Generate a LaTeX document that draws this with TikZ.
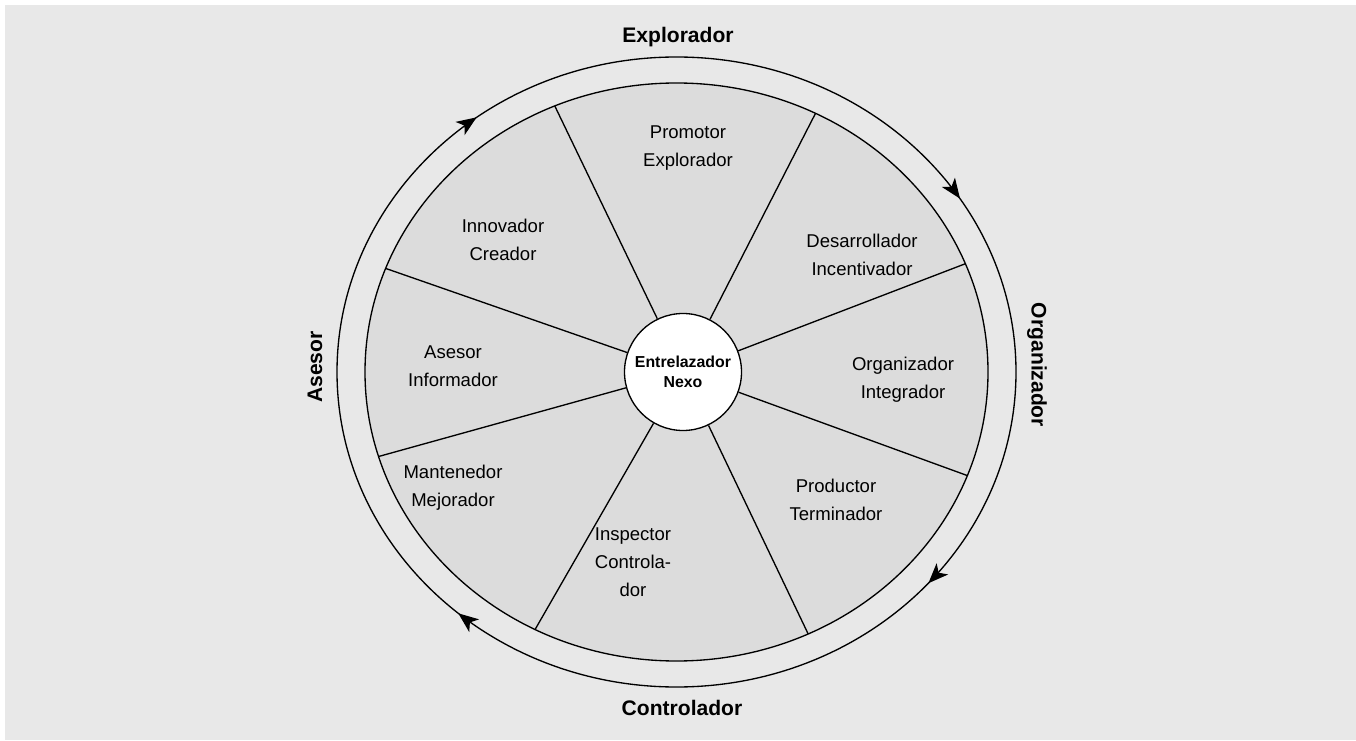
\documentclass[tikz,border=0pt]{standalone}
\usepackage{fontspec}
\setmainfont{Liberation Sans}
\usetikzlibrary{arrows.meta,decorations.markings}
\definecolor{page_gray}{RGB}{232,232,232}
\definecolor{wheel_gray}{RGB}{220,220,220}
\tikzset{
sector_label/.style={align=center, font=\fontsize{13.9}{21}\selectfont},
ring_label/.style={font=\fontsize{15.8}{19}\selectfont\bfseries},
hub_circle/.style={circle, draw, line width=1pt, fill=white, minimum size=87.75pt, inner sep=0pt, align=center, font=\fontsize{11.9}{15}\selectfont\bfseries},
spoke_line/.style={line width=1pt}
}

\begin{document}
\begin{tikzpicture}[x=0.75pt, y=0.75pt]
    \useasboundingbox (0,0) rectangle (1356,740);
    \fill[page_gray] (5,0) rectangle (1356,735);

    % wheel and spokes
    \coordinate (wheel) at (676.5,368);
    \draw[line width=1pt, fill=wheel_gray] (wheel) ellipse [x radius=311.5, y radius=289];
    \path (wheel) ++(113:311.5 and 289) coordinate (rim_1);
    \path (wheel) ++(63.5:311.5 and 289) coordinate (rim_2);
    \path (wheel) ++(22:311.5 and 289) coordinate (rim_3);
    \path (wheel) ++(-21:311.5 and 289) coordinate (rim_4);
    \path (wheel) ++(-65:311.5 and 289) coordinate (rim_5);
    \path (wheel) ++(-117:311.5 and 289) coordinate (rim_6);
    \path (wheel) ++(-163:311.5 and 289) coordinate (rim_7);
    \path (wheel) ++(159:311.5 and 289) coordinate (rim_8);
    \node[hub_circle] (hub) at (683,368) {Entrelazador\\Nexo};
    \foreach \i in {1,...,8}
        \draw[spoke_line] (hub) -- (rim_\i);

    % outer ring
    \draw[line width=1pt, decoration={markings,
        mark=at position 0.114 with {\arrow{Stealth[length=15pt, width=12pt, inset=4pt]}},
        mark=at position 0.364 with {\arrow{Stealth[length=15pt, width=12pt, inset=4pt]}},
        mark=at position 0.647 with {\arrow{Stealth[length=15pt, width=12pt, inset=4pt]}},
        mark=at position 0.910 with {\arrow{Stealth[length=15pt, width=12pt, inset=4pt]}}},
        postaction={decorate}]
        (wheel) ++(0:339.5 and 315) arc[start angle=0, end angle=-360, x radius=339.5, y radius=315];

    % sector labels
    \node[sector_label] (promotor) at (688,592) {Promotor\\Explorador};
    \node[sector_label] (innovador) at (503,500) {Innovador\\Creador};
    \node[sector_label] (desarrollador) at (862,485) {Desarrollador\\Incentivador};
    \node[sector_label] (asesor) at (453,374) {Asesor\\Informador};
    \node[sector_label] (organizador) at (903,360) {Organizador\\Integrador};
    \node[sector_label] (mantenedor) at (453,252) {Mantenedor\\Mejorador};
    \node[sector_label] (productor) at (836,240) {Productor\\Terminador};
    \node[sector_label] (inspector) at (633,178) {Inspector\\Controla-\\dor};

    % ring labels
    \node[ring_label] (ring_top) at (678,703) {Explorador};
    \node[ring_label] (ring_bottom) at (682,32) {Controlador};
    \node[ring_label, rotate=90] (ring_left) at (315,373) {Asesor};
    \node[ring_label, rotate=-90] (ring_right) at (1037,375) {Organizador};
\end{tikzpicture}
\end{document}
